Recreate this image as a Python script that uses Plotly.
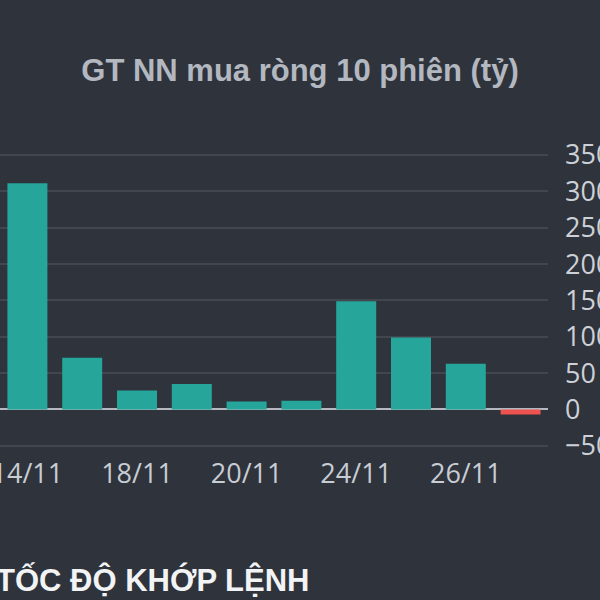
import plotly.graph_objects as go

dates = ["14/11", "17/11", "18/11", "19/11", "20/11", "21/11", "24/11", "25/11", "26/11", "27/11"]
values = [311, 71, 26, 35, 11, 12, 149, 99, 63, -7]
tick_labels = ["14/11", "18/11", "20/11", "24/11", "26/11"]
y_ticks = [-50, 0, 50, 100, 150, 200, 250, 300, 350]

UP = "#26a69a"
DOWN = "#ef5350"
BG = "#2e333c"
colors = [UP if v >= 0 else DOWN for v in values]

fig = go.Figure(go.Bar(x=dates, y=values, marker=dict(color=colors, line=dict(width=0))))

fig.update_layout(
    width=600, height=600,
    paper_bgcolor=BG, plot_bgcolor=BG,
    margin=dict(l=0, r=52, t=130, b=145),
    bargap=0.27,
    showlegend=False,
    title=dict(text="<b>GT NN mua ròng 10 phiên (tỷ)</b>", x=0.5, xanchor="center",
               xref="container", y=1 - 70 / 600, yanchor="middle", yref="container",
               font=dict(family="Liberation Sans, Arial", size=31, color="#b3b8c0")),
    font=dict(family="Open Sans", color="#c8ccd3"),
)
fig.update_xaxes(
    type="category", categoryorder="array", categoryarray=dates,
    tickmode="array", tickvals=tick_labels, ticktext=tick_labels,
    showgrid=False, showline=False, ticks="",
    tickfont=dict(family="Open Sans", size=27, color="#c8ccd3"),
    automargin=False, ticklabelstandoff=0,
)
fig.update_yaxes(
    side="right", range=[-62.6, 384.4],
    tickmode="array", tickvals=y_ticks,
    showgrid=True, gridcolor="#41464f", gridwidth=2,
    zeroline=True, zerolinecolor="#b5b9bf", zerolinewidth=2,
    showline=False, ticks="",
    tickfont=dict(family="Open Sans", size=27, color="#cdd1d7"),
    automargin=False, ticklabelstandoff=16,
)
fig.add_annotation(
    text="<b>TỐC ĐỘ KHỚP LỆNH</b>", xref="paper", yref="paper",
    x=0, xanchor="left", xshift=-6, y=-(580 - 455) / 325, yanchor="middle",
    showarrow=False, font=dict(family="Liberation Sans, Arial", size=31, color="#f2f3f5"),
)

fig.write_html(
    "out.html",
    config={"displayModeBar": False},
    post_script="document.body.style.margin='0';document.body.style.overflow='hidden';",
)
